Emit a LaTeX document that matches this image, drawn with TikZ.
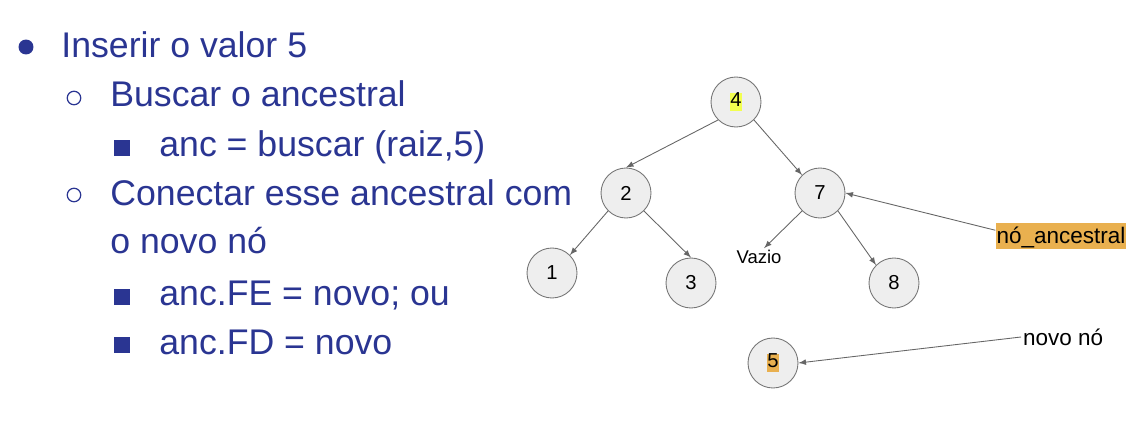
\documentclass[tikz,border=0pt]{standalone}
\usepackage{fontspec}
\setmainfont{Liberation Sans}
\usetikzlibrary{arrows.meta}
\definecolor{slideblue}{HTML}{2A3592}
\definecolor{nodefill}{HTML}{EEEEEE}
\definecolor{nodeline}{HTML}{757575}
\definecolor{linegray}{HTML}{666666}
\definecolor{hlyellow}{HTML}{F2FF4F}
\definecolor{hlorange}{HTML}{E9B04F}
\newcommand{\hlbox}[2]{{\setlength\fboxsep{0pt}\colorbox{#1}{\vphantom{Ag}#2}}}
\begin{document}
\begin{tikzpicture}[x=0.02cm, y=-0.02cm,
    every node/.style={font=\fontsize{11.5}{13}\selectfont},
    item/.style={anchor=base west, inner sep=0pt, text=slideblue, font=\fontsize{20.3}{24}\selectfont},
    dot/.style={circle, fill=slideblue, inner sep=0pt, minimum size=0.3cm},
    ring/.style={circle, draw=slideblue, line width=0.7pt, inner sep=0pt, minimum size=0.27cm},
    sq/.style={rectangle, fill=slideblue, inner sep=0pt, minimum size=0.32cm},
    tnode/.style={circle, draw=nodeline, fill=nodefill, line width=0.5pt, minimum size=1cm, inner sep=0pt},
    note/.style={font=\fontsize{12.8}{14}\selectfont, inner sep=1pt},
    arr/.style={-latex, draw=linegray, line width=0.5pt}
]
\useasboundingbox (0,0) rectangle (1140,439);
% left column: bullet list
\node[dot]  (b1) at (26,47)  {};
\node[item] (t1) at (61,58)  {Inserir o valor 5};
\node[ring] (b2) at (74,98)  {};
\node[item] (t2) at (110,107) {Buscar o ancestral};
\node[sq]   (b3) at (122,148) {};
\node[item] (t3) at (159,156) {anc = buscar (raiz,5)};
\node[ring] (b4) at (74,195) {};
\node[item] (t4) at (110,205) {Conectar esse ancestral com};
\node[item] (t5) at (110,254) {o novo nó};
\node[sq]   (b5) at (122,297) {};
\node[item] (t6) at (159,305) {anc.FE = novo; ou};
\node[sq]   (b6) at (122,345) {};
\node[item] (t7) at (159,354) {anc.FD = novo};
% tree
\node[tnode] (n4) at (736,102) {\hlbox{hlyellow}{4}};
\node[tnode] (n2) at (626,193) {2};
\node[tnode] (n7) at (820,193) {7};
\node[tnode] (n1) at (552,273) {1};
\node[tnode] (n3) at (691,283) {3};
\node[tnode] (n8) at (894,283) {8};
\node[inner sep=1pt, font=\fontsize{10.5}{12}\selectfont] (vazio) at (759,257) {Vazio};
\node[tnode] (n5) at (773,363) {\hlbox{hlorange}{5}};
\node[note, fill=hlorange, inner xsep=0.5pt, inner ysep=0pt, text height=11.5pt, text depth=3.5pt] (anc) at (1061,236) {nó\_ancestral};
\node[note, anchor=west] (novo) at (1021,337) {novo nó};
\draw[arr] (n4.225) -- (n2.north);
\draw[arr] (n4.315) -- (n7.135);
\draw[arr] (n2.225) -- (n1.45);
\draw[arr] (n2.315) -- (n3.north);
\draw[arr] (n7.225) -- (vazio.60);
\draw[arr] (n7.315) -- (n8.135);
\draw[arr] (anc.175) -- (n7.east);
\draw[arr] (novo.west) -- (n5.east);
\end{tikzpicture}
\end{document}
